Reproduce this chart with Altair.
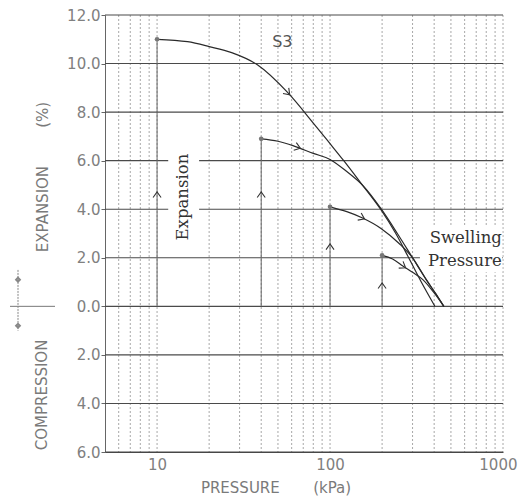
import altair as alt
import pandas as pd

# ---------------- data ----------------
x_grid = [6, 7, 8, 9, 10, 20, 30, 40, 50, 60, 70, 80, 90, 100,
          200, 300, 400, 500, 600, 700, 800, 900, 1000]
y_grid = [-6, -4, -2, 0, 2, 4, 6, 8, 10, 12]
x_label_values = [10, 100, 1000]

main_x = [10, 15, 20, 27, 38, 57, 80, 100, 120, 150, 196, 240, 285, 340, 404]
main_y = [11.0, 10.9, 10.7, 10.45, 9.95, 8.8, 7.55, 6.7, 6.0, 5.1, 4.0, 3.0, 2.0, 0.95, 0.0]

c2_x = [40, 50, 62, 80, 100, 125, 156, 198, 245, 300, 360, 410, 455]
c2_y = [6.9, 6.8, 6.6, 6.3, 6.05, 5.55, 4.95, 4.0, 3.0, 2.0, 1.1, 0.5, 0.0]

c3_x = [100, 125, 153, 198, 250, 300, 360, 410, 455]
c3_y = [4.1, 3.9, 3.65, 3.2, 2.6, 2.0, 1.1, 0.5, 0.0]

c4_x = [200, 230, 265, 300, 344, 400, 455]
c4_y = [2.1, 1.95, 1.65, 1.4, 1.1, 0.55, 0.0]

start_x = [10, 40, 100, 200]
start_y = [11.0, 6.9, 4.1, 2.1]

up_arrow_x = [10, 40, 100, 200]
up_arrow_y = [4.6, 4.6, 2.45, 0.85]

dir_arrow_x = [57, 65, 153, 265]
dir_arrow_y = [8.8, 6.55, 3.65, 1.65]
dir_arrow_angle = [46, 19, 26, 33]

# ---------------- tables ----------------
rows = []
for name, xs, ys in [("S3", main_x, main_y), ("c2", c2_x, c2_y),
                     ("c3", c3_x, c3_y), ("c4", c4_x, c4_y)]:
    for i, (a, b) in enumerate(zip(xs, ys)):
        rows.append({"s": name, "x": a, "y": b, "o": i})
curves = pd.DataFrame(rows)

xs_scale = alt.Scale(type="log", domain=[5, 1000], nice=False)
ys_scale = alt.Scale(domain=[-6, 12], nice=False, zero=False)

SANS = "DejaVu Sans"
SERIF = "DejaVu Serif"
NB = "\u00a0"

x_axis = alt.Axis(values=x_label_values, labelExpr="format(datum.value, 'd')",
                  ticks=False, grid=False, domain=True, domainColor="#444",
                  labelFont=SANS, labelFontSize=15, labelColor="#808080",
                  labelPadding=5, labelFlush=True, labelFlushOffset=14,
                  labelOverlap=False,
                  title="PRESSURE" + NB * 7 + "(kPa)", titleFont=SANS,
                  titleFontSize=15, titleFontWeight="normal", titleColor="#7a7a7a",
                  titleX=170.5, titleY=35, titleAlign="center", titleBaseline="middle",
                  titleAnchor="start")
y_axis = alt.Axis(values=y_grid, labelExpr="format(abs(datum.value), '.1f')",
                  tickSize=4, tickColor="#666", grid=False, domain=True,
                  domainColor="#666", labelFont=SANS, labelFontSize=15,
                  labelColor="#808080", labelPadding=1, labelFlush=False,
                  labelOverlap=False,
                  title="EXPANSION" + NB * 8 + "(%)", titleFont=SANS,
                  titleFontSize=15, titleFontWeight="normal", titleColor="#7a7a7a",
                  titleX=-63, titleY=161.5, titleAngle=270, titleAlign="center",
                  titleBaseline="middle", titleAnchor="start")


def X(field="x"):
    return alt.X(f"{field}:Q", scale=xs_scale, axis=x_axis)


def Y(field="y"):
    return alt.Y(f"{field}:Q", scale=ys_scale, axis=y_axis)


vgrid = alt.Chart(pd.DataFrame({"x": x_grid})).mark_rule(
    color="#a8a8a8", strokeDash=[2, 2], strokeWidth=1).encode(x=X())

hgrid = alt.Chart(pd.DataFrame({"y": y_grid})).mark_rule(
    color="#4a4a4a", strokeWidth=1.1).encode(y=Y())

# white backgrounds behind the two labels
bg = alt.Chart(pd.DataFrame({"x": [11.6, 331], "x2": [17.5, 990],
                             "y": [2.6, 1.4], "y2": [6.5, 3.35]})).mark_rect(
    color="white").encode(x=X(), x2="x2:Q", y=Y(), y2="y2:Q")

load = alt.Chart(pd.DataFrame({"x": start_x, "y": [0, 0, 0, 0], "y2": start_y})).mark_rule(
    color="#666", strokeWidth=1).encode(x=X(), y=Y(), y2="y2:Q")

lines = alt.Chart(curves).mark_line(
    interpolate="monotone", color="#2a2a2a", strokeWidth=1.2).encode(
    x=X(), y=Y(), detail="s:N", order="o:Q")

starts = alt.Chart(pd.DataFrame({"x": start_x, "y": start_y})).mark_point(
    shape="circle", filled=True, size=22, color="#777", opacity=1).encode(x=X(), y=Y())

up = alt.Chart(pd.DataFrame({"x": up_arrow_x, "y": up_arrow_y})).mark_point(
    shape="M -1 0.7 L 0 -0.7 L 1 0.7", filled=False, size=64, color="#333",
    strokeWidth=1.1, opacity=1).encode(x=X(), y=Y())

dirs = alt.Chart(pd.DataFrame({"x": dir_arrow_x, "y": dir_arrow_y,
                               "a": dir_arrow_angle})).mark_point(
    shape="M -0.7 -1 L 0.7 0 L -0.7 1", filled=False, size=64, color="#333",
    strokeWidth=1.1, opacity=1).encode(x=X(), y=Y(), angle=alt.Angle("a:Q", scale=None))

s3 = alt.Chart(pd.DataFrame({"x": [53], "y": [10.9], "t": ["S3"]})).mark_text(
    font=SANS, fontSize=16, color="#555").encode(x=X(), y=Y(), text="t:N")

expn = alt.Chart(pd.DataFrame({"x": [14.2], "y": [4.5], "t": ["Expansion"]})).mark_text(
    font=SERIF, fontSize=16.5, color="#333", angle=270).encode(x=X(), y=Y(), text="t:N")

swell = alt.Chart(pd.DataFrame({"x": [985, 985], "y": [2.82, 1.86],
                                "t": ["Swelling", "Pressure"]})).mark_text(
    font=SERIF, fontSize=16.5, color="#333", align="right", baseline="middle").encode(
    x=X(), y=Y(), text="t:N")

comp = alt.Chart(pd.DataFrame({"y": [-3.65], "t": ["COMPRESSION"]})).mark_text(
    font=SANS, fontSize=15, color="#7a7a7a", angle=270).encode(
    x=alt.value(-63), y=Y(), text="t:N")

cross_h = alt.Chart(pd.DataFrame({"y": [0]})).mark_rule(color="#777", strokeWidth=1).encode(
    x=alt.value(-95), x2=alt.value(-50), y=Y())
cross_v = alt.Chart(pd.DataFrame({"y": [1.5], "y2": [-1.0]})).mark_rule(
    color="#888", strokeWidth=1, strokeDash=[2, 1]).encode(
    x=alt.value(-87), y=Y(), y2="y2:Q")
cross_tips = alt.Chart(pd.DataFrame({"y": [1.1, -0.8]})).mark_point(
    shape="diamond", filled=False, size=14, color="#888", opacity=1).encode(
    x=alt.value(-87), y=Y())

chart = alt.layer(vgrid, hgrid, bg, load, lines, starts, up, dirs, s3, expn, swell,
                  comp, cross_h, cross_v, cross_tips).properties(
    width=398, height=437,
    autosize=alt.AutoSizeParams(type="none"),
    padding={"left": 97, "top": 7, "right": 15, "bottom": 44},
    background="white",
).configure_view(stroke=None)

chart.save("out.html", embed_options={"renderer": "svg", "actions": False})
